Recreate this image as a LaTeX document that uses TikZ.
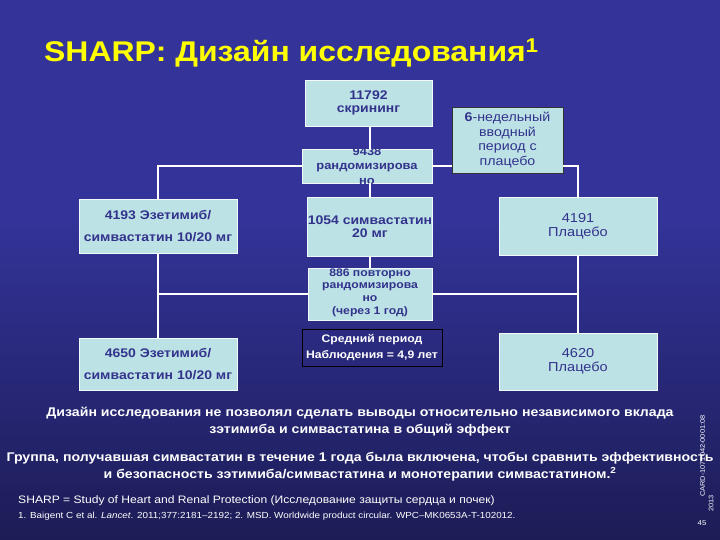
\documentclass[tikz,border=0pt]{standalone}
\usepackage{fontspec}
\setmainfont[FakeStretch=1.12]{Liberation Sans}
\usepackage{xcolor}
\usepackage{tikz}
\usetikzlibrary{positioning}
\definecolor{slidetop}{RGB}{51,51,153}
\definecolor{slidebot}{RGB}{28,28,86}
\definecolor{boxfill}{RGB}{188,226,230}
\definecolor{boxtext}{RGB}{51,51,140}
\definecolor{titleyel}{RGB}{255,255,0}
\newcommand{\pxfont}[2]{\fontsize{#1}{#2}\selectfont}

\begin{document}
\begin{tikzpicture}[
      x=1pt, y=-1pt,
      box/.style={draw=white!80!boxfill, line width=0.8pt, fill=boxfill,
                  text=boxtext, font=\pxfont{12.5}{13}\bfseries, align=center,
                  inner sep=0pt},
      boxtxt/.style={text=boxtext, align=center, inner sep=0pt},
      wkbox/.style={box, draw=black!80, font=\pxfont{12.7}{14.5}},
      fubox/.style={draw=black, line width=0.8pt, text=white, align=center,
                    font=\pxfont{10.9}{16}\bfseries, inner sep=0pt},
      conn/.style={draw=white, line width=1.2pt},
      note/.style={text=white, align=center, font=\pxfont{12.6}{16.5}\bfseries},
      fnote/.style={text=white, inner sep=0pt},
    ]
    % ── slide background ──
    \fill[slidetop] (0,0) rectangle (720,220);
    \shade[top color=slidetop, bottom color=slidebot] (0,219.5) rectangle (720,540);
    \useasboundingbox (0,0) rectangle (720,540);

    % ── title ──
    \node[anchor=base west, inner sep=0pt, text=titleyel,
          font=\pxfont{28.5}{30}\bfseries] (title) at (44,62)
          {SHARP: Дизайн исследования\textsuperscript{1}};

    % ── screening / randomisation ──
    \node[box, minimum width=127pt, minimum height=46pt] (scr) at (368.5,103)
          {11792\\скрининг};
    \node[box, minimum width=130pt, minimum height=34pt] (rand) at (367,166) {};
    \node[boxtxt, font=\pxfont{11.5}{14.5}\bfseries] (randtxt) at (367,166)
          {9438\\рандомизирова\\но};
    \node[wkbox, minimum width=111pt, minimum height=66pt] (wk) at (507.5,140)
          {\textbf{6}-недельный\\вводный\\период с\\плацебо};

    % first allocation
    \node[box, minimum width=158pt, minimum height=54pt] (ez1) at (158,226)
          {4193 Эзетимиб/\\[9pt]симвастатин 10/20 мг};
    \node[box, minimum width=124pt, minimum height=59pt] (sim) at (370,226.5)
          {1054 симвастатин\\20 мг};
    \node[box, font=\pxfont{13}{14}, minimum width=158pt, minimum height=58pt]
          (pl1) at (578,226) {4191\\Плацебо};

    % re-randomisation after 1 year
    \node[box, minimum width=124pt, minimum height=52pt] (re) at (370,294) {};
    \node[boxtxt, font=\pxfont{10.9}{12.7}\bfseries] (retxt) at (370,292.5)
          {886 повторно\\рандомизирова\\но\\(через 1 год)};
    \node[fubox, minimum width=140pt, minimum height=37pt] (fu) at (372,347.5)
          {Средний период\\Наблюдения = 4,9 лет};

    % final arms
    \node[box, minimum width=158pt, minimum height=52pt] (ez2) at (158,364)
          {4650 Эзетимиб/\\[9pt]симвастатин 10/20 мг};
    \node[box, font=\pxfont{13}{14}, minimum width=158pt, minimum height=57pt]
          (pl2) at (578,361.5) {4620\\Плацебо};

    % ── connectors ──
    \draw[conn] (scr.south -| sim.north) -- (rand.north -| sim.north);
    \draw[conn] (rand.west) -| (ez1.north);
    \draw[conn] (rand.east) -- (rand.east -| wk.west);
    \draw[conn] (rand.east -| wk.east) -| (pl1.north);
    \draw[conn] (rand.south -| sim.north) -- (sim.north);
    \draw[conn] (sim.south) -- (re.north);
    \draw[conn] (ez1.south) -- (ez2.north);
    \draw[conn] (pl1.south) -- (pl2.north);
    \draw[conn] (re.west) -- (re.west -| ez1.south);
    \draw[conn] (re.east) -- (re.east -| pl1.south);

    % ── notes ──
    \node[note] (lim) at (360,421.5)
          {Дизайн исследования не позволял сделать выводы относительно независимого вклада\\
           зэтимиба и симвастатина в общий эффект};
    \node[note] (grp) at (360,466.5)
          {Группа, получавшая симвастатин в течение 1 года была включена, чтобы сравнить эффективность\\
           и безопасность зэтимиба/симвастатина и монотерапии симвастатином.\textsuperscript{2}};

    % footnotes
    \node[fnote, anchor=base west, font=\pxfont{10.8}{12}] (abbr) at (18,503.5)
          {SHARP = Study of Heart and Renal Protection (Исследование защиты сердца и почек)};
    \node[fnote, anchor=base west, font=\pxfont{8.8}{10}] (refs) at (18,518)
          {1. Baigent C et al. \textit{Lancet}. 2011;377:2181–2192; 2. MSD. Worldwide product circular. WPC–MK0653A-T-102012.};

    % job code
    \node[fnote, rotate=90, anchor=west, font=\pxfont{6.6}{8}] (code) at (702.5,497)
          {CARD-1071042-0001:08};
    \node[fnote, rotate=90, anchor=west, font=\pxfont{6.6}{8}] (year) at (711,512)
          {2013};
    \node[fnote, font=\pxfont{7}{8}] (page) at (702,523) {45};
  \end{tikzpicture}
\end{document}
